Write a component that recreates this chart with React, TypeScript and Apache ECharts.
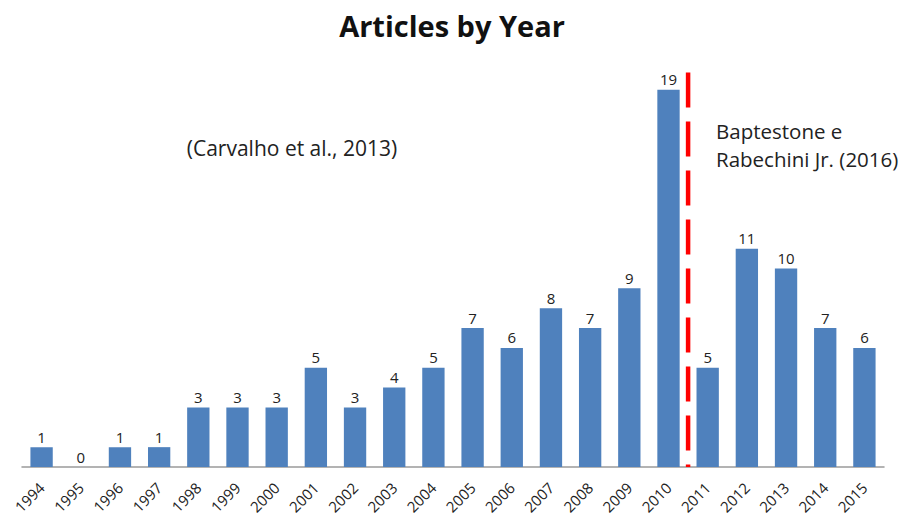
import React, { useEffect, useRef } from "react";
import * as echarts from "echarts";

const years = ["1994","1995","1996","1997","1998","1999","2000","2001","2002","2003","2004","2005","2006","2007","2008","2009","2010","2011","2012","2013","2014","2015"];
const articles = [1,0,1,1,3,3,3,5,3,4,5,7,6,8,7,9,19,5,11,10,7,6];
const titleText = "Articles by Year";
const leftNote = "(Carvalho et al., 2013)";
const rightNote = "Baptestone e\nRabechini Jr. (2016)";
const splitBefore = "2010";
const splitAfter = "2011";
const yMax = 20;

export default function App() {
  const ref = useRef<HTMLDivElement>(null);
  useEffect(() => {
    if (!ref.current) return;
    const chart = echarts.init(ref.current, null, { renderer: "svg" });
    const font = "'Open Sans', Lato, sans-serif";
    chart.setOption({
      animation: false,
      backgroundColor: "#ffffff",
      title: {
        text: titleText,
        left: "center",
        top: 6,
        textStyle: { fontFamily: font, fontSize: 29, fontWeight: "bold", color: "#111" },
      },
      grid: { left: 22, right: 20, top: 70, bottom: 58 },
      xAxis: {
        type: "category",
        data: years,
        axisLine: { lineStyle: { color: "#9a9a9a", width: 1.5 } },
        axisTick: { show: false },
        axisLabel: { rotate: 45, fontFamily: font, fontSize: 15, color: "#222", margin: 18, interval: 0 },
      },
      yAxis: {
        type: "value",
        min: 0,
        max: yMax,
        show: false,
        splitLine: { show: false },
      },
      series: [
        {
          type: "bar",
          data: articles,
          barWidth: "57%",
          itemStyle: { color: "#4f81bd" },
          label: { show: true, position: "top", fontFamily: font, fontSize: 15, color: "#222", distance: 3 },
        },
      ],
    });
    const x1 = chart.convertToPixel({ xAxisIndex: 0 }, splitBefore) as number;
    const x2 = chart.convertToPixel({ xAxisIndex: 0 }, splitAfter) as number;
    const xm = (x1 + x2) / 2;
    const yTop = chart.convertToPixel({ yAxisIndex: 0 }, yMax) as number;
    const yBot = chart.convertToPixel({ yAxisIndex: 0 }, 0) as number;
    chart.setOption({
      graphic: [
        {
          type: "line",
          shape: { x1: xm, y1: yTop + 2.5, x2: xm, y2: yBot },
          style: { stroke: "#ff0000", lineWidth: 4.5, lineDash: [35, 14] },
          z: 10,
        },
        {
          type: "text",
          x: 292,
          y: 148,
          style: { text: leftNote, fontFamily: font, fontSize: 21, fill: "#222", align: "center", verticalAlign: "middle" },
        },
        {
          type: "text",
          x: 716,
          y: 145,
          style: { text: rightNote, fontFamily: font, fontSize: 20.5, lineHeight: 28, fill: "#222", align: "left", verticalAlign: "middle" },
        },
      ],
    });
    return () => chart.dispose();
  }, []);
  return <div ref={ref} style={{ position: "absolute", left: 0, top: 0, width: 904, height: 525 }} />;
}
